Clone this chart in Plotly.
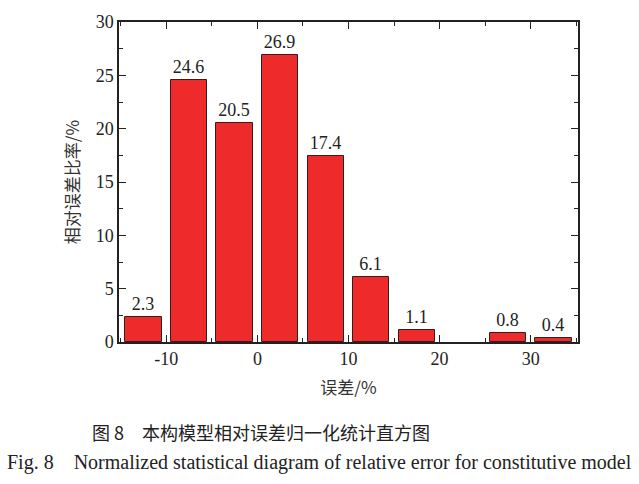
import plotly.graph_objects as go

bin_centers = [-12.5, -7.5, -2.5, 2.5, 7.5, 12.5, 17.5, 22.5, 27.5, 32.5]
ratios = [2.3, 24.6, 20.5, 26.9, 17.4, 6.1, 1.1, 0.0, 0.8, 0.4]
labels = ["2.3", "24.6", "20.5", "26.9", "17.4", "6.1", "1.1", "", "0.8", "0.4"]
x_ticks = [-10, 0, 10, 20, 30]
x_ticktext = ["-10", "0", "10", "20", "30"]
y_ticks = [0, 5, 10, 15, 20, 25, 30]

serif = "Liberation Serif, Times New Roman, serif"
cjk = "Noto Sans CJK SC"

outline_widths = [1 if v > 0 else 0 for v in ratios]

fig = go.Figure()
fig.add_trace(go.Bar(
    x=bin_centers, y=ratios, width=4.0,
    marker=dict(color="#EE2A2A", line=dict(color="#3a1a1a", width=outline_widths)),
    text=labels, textposition="outside", cliponaxis=False,
    textfont=dict(family=serif, size=18, color="#222"),
))

fig.update_layout(
    width=639, height=484,
    margin=dict(l=119, r=61, t=14, b=142),
    plot_bgcolor="white", paper_bgcolor="white",
    showlegend=False, bargap=0,
    font=dict(family=serif, size=18, color="#222"),
)
fig.update_xaxes(
    range=[-15.2, 35.2], tickmode="array", tickvals=x_ticks, ticktext=x_ticktext,
    ticks="inside", ticklen=7, tickwidth=1.2, tickcolor="#222",
    minor=dict(dtick=5, tick0=0, ticks="inside", ticklen=4, tickcolor="#222", showgrid=False),
    showline=True, linecolor="#222", linewidth=1.5, mirror="ticks",
    showgrid=False, zeroline=False,
    tickfont=dict(family=serif, size=18, color="#222"),
    title=dict(text="误差/%", font=dict(family=cjk, size=17, color="#333"), standoff=14),
)
fig.update_yaxes(
    range=[0, 30], tickmode="array", tickvals=y_ticks,
    ticks="inside", ticklen=7, tickwidth=1.2, tickcolor="#222",
    minor=dict(dtick=2.5, tick0=0, ticks="inside", ticklen=4, tickcolor="#222", showgrid=False),
    showline=True, linecolor="#222", linewidth=1.5, mirror="ticks",
    showgrid=False, zeroline=False,
    tickfont=dict(family=serif, size=18, color="#222"),
    title=dict(text="相对误差比率/%", font=dict(family=cjk, size=17, color="#333"), standoff=12),
)
fig.add_annotation(
    text="图 8　本构模型相对误差归一化统计直方图", xref="paper", yref="paper",
    x=0.5, y=-0.28, xanchor="center", yanchor="middle", showarrow=False,
    font=dict(family=cjk, size=18, color="#222"), xshift=-88,
)
fig.add_annotation(
    text="Fig. 8　Normalized statistical diagram of relative error for constitutive model",
    xref="paper", yref="paper",
    x=0.5, y=-0.375, xanchor="center", yanchor="middle", showarrow=False,
    font=dict(family=serif, size=20, color="#222"), xshift=-29,
)
fig.write_html("out.html")
